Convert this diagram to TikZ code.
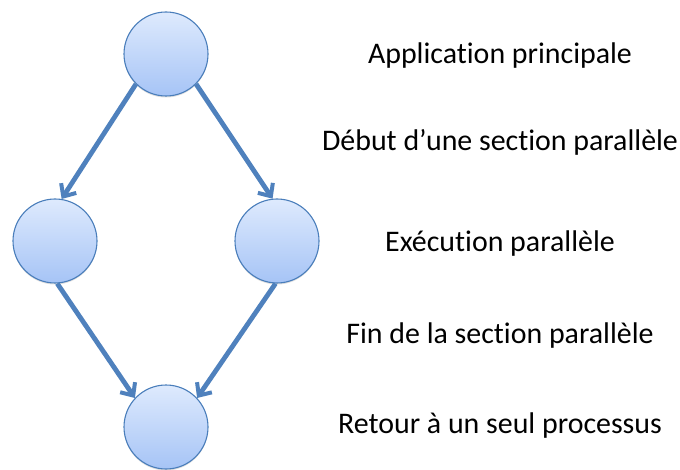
\documentclass[tikz,border=0pt]{standalone}
\usepackage{fontspec}
\setmainfont{Carlito}[Ligatures=CommonOff]
\usetikzlibrary{arrows.meta,shadows}
\definecolor{arrowblue}{RGB}{79,129,189}
\definecolor{ringblue}{RGB}{74,126,187}
\definecolor{filltop}{RGB}{222,234,253}
\definecolor{fillbot}{RGB}{166,196,246}
\tikzset{
  proc/.style={circle, draw=ringblue, line width=1.1pt, minimum size=84pt, inner sep=0pt,
    top color=filltop, bottom color=fillbot,
    drop shadow={opacity=0.25, shadow xshift=0pt, shadow yshift=-1.5pt}},
  flow/.style={draw=arrowblue, line width=4.8pt,
    -{Straight Barb[length=10pt,width=18pt,line width=4pt]}},
  lbl/.style={font=\fontsize{29.9}{36}\selectfont, anchor=base, inner sep=0pt}
}
\begin{document}
\begin{tikzpicture}[x=1pt,y=-1pt]
\useasboundingbox (0,0) rectangle (680,470);
\node[proc] (top) at (166,54) {};
\node[proc] (left) at (55,241) {};
\node[proc] (right) at (277,241) {};
\node[proc] (bot) at (166,427) {};
\draw[flow] (top.225) -- (left.81);
\draw[flow] (top.315) -- (right.96);
\draw[flow] (left.273) -- (bot.137);
\draw[flow] (right.268) -- (bot.43);
\node[lbl] (t1) at (500,64) {Application principale};
\node[lbl] (t2) at (500,151) {Début d’une section parallèle};
\node[lbl] (t3) at (500,252) {Exécution parallèle};
\node[lbl] (t4) at (500,344) {Fin de la section parallèle};
\node[lbl] (t5) at (500,433) {Retour à un seul processus};
\end{tikzpicture}
\end{document}
